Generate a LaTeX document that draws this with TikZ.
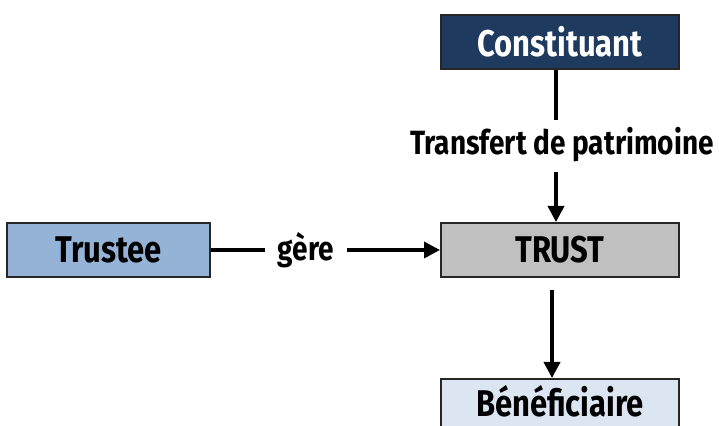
\documentclass[tikz,border=0pt]{standalone}
\usepackage{fontspec}
\setmainfont{Fira Sans}
\usetikzlibrary{arrows.meta}
\definecolor{navy}{HTML}{1F3A5F}
\definecolor{trustgray}{HTML}{C0C0C0}
\definecolor{trusteeblue}{HTML}{95B3D7}
\definecolor{benblue}{HTML}{DCE6F2}
\newcommand{\tallbox}[1]{\scalebox{1}[1.2]{#1}}
\tikzset{
  box/.style={draw=black!85, line width=2pt, minimum width=238pt, minimum height=54pt, inner sep=0pt, font=\fontsize{31}{34}\selectfont\bfseries},
  lbl/.style={font=\fontsize{28}{30}\selectfont\bfseries, inner sep=1pt},
  conn/.style={line width=3.5pt, -{Triangle[length=16pt,width=16pt]}},
  plain/.style={line width=3.5pt}
}
\begin{document}
\begin{tikzpicture}[x=1pt,y=1pt]
\useasboundingbox (0,0) rectangle (719,425);
\clip (0,0) rectangle (719,425);
\node[box, fill=navy, text=white] (const) at (560,383) {\tallbox{Constituant}};
\node[box, fill=trustgray] (trust) at (560,175) {\tallbox{TRUST}};
\node[box, fill=trusteeblue, minimum width=203pt] (trustee) at (108.5,175) {\tallbox{Trustee}};
\node[box, fill=benblue, anchor=north] (ben) at (560,47) {\raisebox{10pt}{\tallbox{Bénéficiaire}}};
\node[lbl] (transf) at (562,280) {\tallbox{Transfert de patrimoine}};
\node[lbl] (gere) at (306,175) {\tallbox{gère}};
\coordinate (c1) at (556,307);
\coordinate (c2) at (556,262);
\coordinate (c3) at (552,135);
\draw[plain] (const.south -| c1) -- ([yshift=6pt]transf.north -| c1);
\draw[conn] ([yshift=-8pt]transf.south -| c2) -- (trust.north -| c2);
\draw[plain] (trustee.east) -- ([xshift=-12pt]gere.west |- trustee.east);
\draw[conn] ([xshift=12pt]gere.east |- trust.west) -- (trust.west);
\draw[conn] ([yshift=-12pt]trust.south -| c3) -- (ben.north -| c3);
\end{tikzpicture}
\end{document}
